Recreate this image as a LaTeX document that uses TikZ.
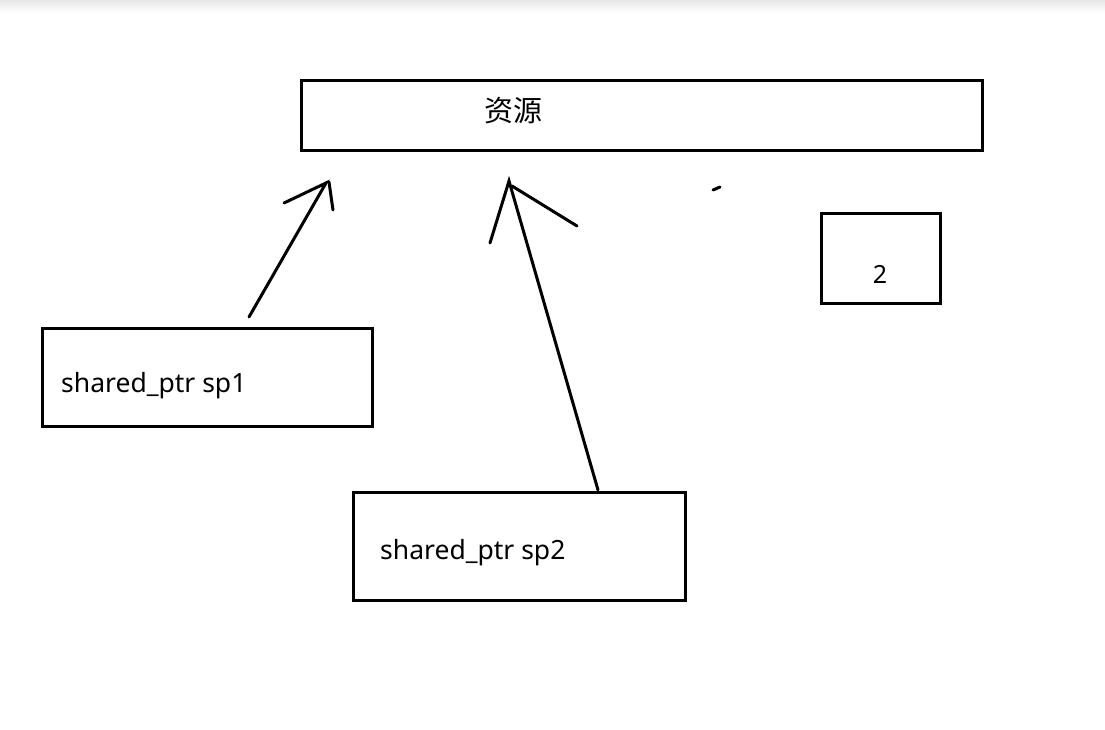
\documentclass[tikz,border=0pt]{standalone}
\usepackage{fontspec}
\setmainfont{Noto Sans}
\newfontfamily\cjk{Noto Sans CJK SC}
\usetikzlibrary{positioning}
\tikzset{
  box/.style={draw=black, line width=3pt, inner sep=0pt},
  pen/.style={draw=black, line width=3pt, line cap=round},
  lbl/.style={font=\fontsize{26.5}{30}\selectfont, inner sep=0pt, anchor=base west},
}
\begin{document}
\begin{tikzpicture}[x=1pt,y=-1pt]
\useasboundingbox (0,0) rectangle (1105,730);
\fill[white] (0,0) rectangle (1105,730);
\shade[top color=black!10, bottom color=white] (0,0) rectangle (1105,12);
% boxes
\draw[box] (301,81) rectangle (982,151);
\node[inner sep=0pt, font=\cjk\fontsize{29}{32}\selectfont] (res) at (513,111) {资源};
\draw[box] (821,213) rectangle (940,303);
\node[inner sep=0pt, anchor=base, font=\fontsize{25}{28}\selectfont] (two) at (880,283) {2};
\draw[box] (42,328) rectangle (372,426);
\node[lbl] (sp1) at (61,392) {shared\_ptr sp1};
\draw[box] (353,492) rectangle (685,600);
\node[lbl] (sp2) at (380,559) {shared\_ptr sp2};
% arrow 1
\coordinate (a1s) at (249,317);
\coordinate (a1t) at (326,183);
\coordinate (a1l) at (284,203);
\coordinate (a1r0) at (329,182);
\coordinate (a1r) at (333,210);
\draw[pen] (a1s) -- (a1t) -- (a1l);
\draw[pen] (a1r0) -- (a1r);
% arrow 2
\coordinate (a2s) at (598,490);
\coordinate (a2t) at (509,181);
\coordinate (a2l) at (490,243);
\coordinate (a2r0) at (512,186);
\coordinate (a2r) at (577,226);
\draw[pen] (a2s) -- (a2t) -- (a2l);
\draw[pen] (a2r0) -- (a2r);
% stray mark
\coordinate (m1) at (713,190);
\coordinate (m2) at (720,187);
\draw[pen] (m1) -- (m2);
\end{tikzpicture}
\end{document}
